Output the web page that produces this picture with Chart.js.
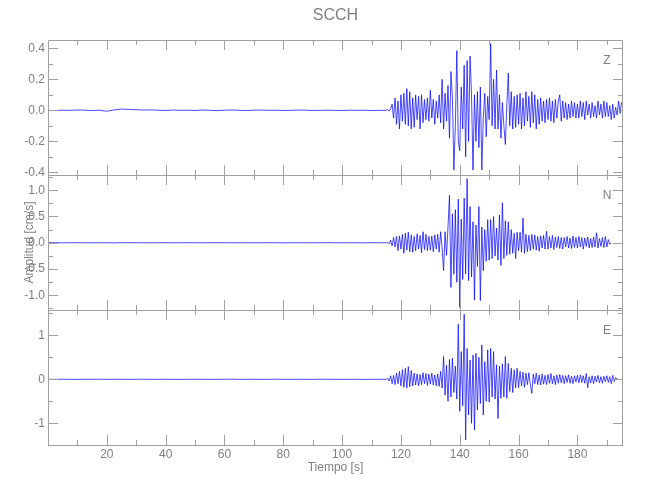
<!DOCTYPE html>
<html>
<head>
<meta charset="utf-8">
<script src="https://cdn.jsdelivr.net/npm/chart.js@4.4.1/dist/chart.umd.min.js"></script>
<style>
  html, body { margin: 0; padding: 0; background: #fff; }
  #wrap { position: relative; width: 650px; height: 500px; }
  #wrap canvas { position: absolute; left: 0; top: 0; }
</style>
</head>
<body>
<div id="wrap">
  <canvas id="chart-z" width="650" height="500"></canvas>
  <canvas id="chart-n" width="650" height="500"></canvas>
  <canvas id="chart-e" width="650" height="500"></canvas>
</div>
<script>
// Registro SCCH, velocidad en cm/s
const estacion = "SCCH";
const pasoQuieto = 2.5;     // s, tramo antes del arribo (0 - 112.5 s)
const inicioActivo = 115;   // s, primer punto del tramo fuerte
const paso = 0.5;           // s

// Eje X
const xMayores = [20, 40, 60, 80, 100, 120, 140, 160, 180];
const xMenores = [10, 30, 50, 70, 90, 110, 130, 150, 170, 190];

// Componente Z
const zTicks = [-0.4, -0.2, 0.0, 0.2, 0.4];
const zMenores = [-0.3, -0.1, 0.1, 0.3];
const zQuieto = [
  0.000, -0.002, 0.001, 0.000, 0.002, 0.001, -0.002, 0.001, -0.006, 0.003,
  0.008, 0.006, 0.004, 0.002, 0.003, 0.001, -0.001, 0.002, 0.000, 0.001,
  -0.001, 0.002, 0.000, -0.002, 0.001, 0.002, 0.000, -0.001, 0.001, 0.002,
  0.000, 0.001, -0.001, 0.000, 0.002, 0.001, -0.001, 0.000, 0.001, 0.000,
  -0.001, 0.001, 0.000, 0.001, -0.001, 0.000
];
const zActivo = [
  0.00, 0.005, -0.005, 0.01, 0.04, -0.05, 0.08, -0.09, 0.06, -0.12,
  0.10, -0.07, 0.11, -0.09, 0.14, -0.10, 0.12, -0.12, 0.08, -0.11,
  0.10, -0.06, 0.09, -0.12, 0.10, -0.08, 0.07, -0.06, 0.08, -0.07,
  0.13, -0.05, 0.07, -0.09, 0.06, -0.05, 0.10, -0.08, 0.20, -0.12,
  0.11, -0.07, 0.16, -0.18, 0.25, 0.08, -0.385, -0.10, 0.385, -0.20,
  -0.26, 0.15, -0.12, 0.29, -0.30, 0.32, -0.20, 0.35, 0.10, -0.385,
  0.10, -0.20, 0.12, -0.24, 0.15, -0.385, -0.05, 0.11, -0.17, 0.09,
  -0.06, 0.43, -0.10, 0.20, -0.12, 0.26, -0.12, 0.10, -0.18, 0.05,
  -0.10, -0.22, 0.03, 0.24, -0.10, 0.12, -0.12, 0.09, -0.11, 0.10,
  -0.09, 0.11, -0.12, 0.08, -0.10, 0.12, -0.07, 0.09, -0.11, 0.12,
  -0.08, 0.10, -0.12, 0.07, -0.09, 0.08, -0.07, 0.06, -0.08, 0.07,
  -0.06, 0.08, -0.07, 0.06, -0.08, 0.07, -0.05, 0.06, 0.10, -0.07,
  0.06, -0.05, 0.05, -0.06, 0.04, -0.05, 0.06, -0.04, 0.05, -0.05,
  0.04, -0.05, 0.06, -0.04, 0.05, -0.06, 0.06, -0.03, 0.04, -0.05,
  0.05, -0.04, 0.03, -0.05, 0.06, -0.03, 0.04, -0.05, 0.06, -0.04,
  0.05, -0.04, 0.03, -0.06, 0.04, -0.05, 0.02, -0.03, 0.06, -0.02,
  0.05, 0.06
];

// Componente N
const nTicks = [-1.0, -0.5, 0.0, 0.5, 1.0];
const nMenores = [-1.25, -0.75, -0.25, 0.25, 0.75, 1.25];
const nQuieto = [
  0.000, 0.001, -0.001, 0.000, 0.002, 0.000, -0.001, 0.001, 0.000, -0.002,
  0.001, 0.002, 0.000, -0.001, 0.001, 0.000, 0.002, -0.001, 0.000, 0.001,
  0.000, -0.001, 0.001, 0.002, 0.000, -0.001, 0.000, 0.001, -0.001, 0.000,
  0.001, 0.000, -0.002, 0.001, 0.000, 0.001, -0.001, 0.000, 0.002, 0.000,
  -0.001, 0.001, 0.000, -0.001, 0.002, 0.000
];
const nActivo = [
  0.00, 0.01, -0.02, 0.05, -0.06, 0.10, -0.08, 0.12, -0.15, 0.13,
  -0.12, 0.16, -0.20, 0.18, -0.14, 0.20, -0.17, 0.15, -0.18, 0.12,
  -0.15, 0.17, -0.12, 0.14, -0.19, 0.21, -0.13, 0.16, -0.15, 0.12,
  -0.14, 0.13, -0.17, 0.15, -0.12, 0.16, -0.18, 0.21, -0.10, -0.53,
  0.21, -0.24, 0.30, 0.90, -0.85, 0.55, -0.60, 0.63, -0.75, 0.83,
  -1.23, 0.45, -0.70, 0.85, -0.59, 1.22, -0.72, 0.69, -0.65, 0.40,
  -1.09, 0.34, -0.45, 0.69, -1.10, 0.30, -0.53, 0.25, -0.35, 0.44,
  -0.33, 0.44, -0.30, 0.50, -0.25, 0.28, -0.33, 0.53, -0.43, 0.76,
  -0.30, 0.42, -0.24, 0.40, -0.22, 0.25, -0.20, 0.18, -0.30, 0.20,
  -0.15, 0.20, -0.18, 0.47, -0.20, 0.16, -0.17, 0.14, -0.15, 0.16,
  -0.12, 0.15, -0.14, 0.12, -0.16, 0.13, -0.10, 0.14, -0.12, 0.22,
  -0.12, 0.12, -0.10, 0.14, -0.13, 0.11, -0.09, 0.12, -0.11, 0.10,
  -0.12, 0.10, -0.08, 0.12, -0.10, 0.09, -0.11, 0.13, -0.09, 0.10,
  -0.10, 0.12, -0.08, 0.10, -0.12, 0.09, -0.07, 0.11, -0.10, 0.08,
  -0.09, 0.11, -0.08, 0.19, -0.10, 0.08, -0.07, 0.10, -0.09, 0.12,
  -0.08, 0.06, -0.03, 0.00
];

// Componente E
const eTicks = [-1, 0, 1];
const eMenores = [-1.5, -0.5, 0.5, 1.5];
const eQuieto = [
  0.000, -0.001, 0.001, 0.000, -0.002, 0.001, 0.000, 0.002, -0.001, 0.000,
  0.001, -0.001, 0.000, 0.002, 0.000, -0.001, 0.001, 0.000, -0.002, 0.001,
  0.000, 0.001, -0.001, 0.000, 0.001, 0.002, -0.001, 0.000, 0.001, -0.001,
  0.000, 0.002, 0.000, -0.001, 0.001, 0.000, -0.001, 0.002, 0.000, 0.001,
  -0.001, 0.000, 0.001, -0.002, 0.000, 0.001
];
const eActivo = [
  0.00, 0.02, -0.04, 0.08, -0.10, 0.09, -0.12, 0.14, -0.10, 0.18,
  -0.15, 0.22, -0.18, 0.25, -0.20, 0.29, -0.17, 0.20, -0.15, 0.14,
  -0.13, 0.12, -0.15, 0.11, -0.12, 0.15, -0.10, 0.13, -0.14, 0.12,
  -0.11, 0.14, -0.13, 0.10, -0.15, 0.12, -0.16, 0.18, -0.20, 0.52,
  -0.36, 0.32, -0.50, 0.45, -0.40, 0.48, -0.30, 0.30, -0.45, 1.25,
  -0.73, 0.63, -0.60, 1.48, -1.38, 0.70, -0.81, 0.44, -1.00, 0.55,
  -1.15, 0.59, -0.70, 0.50, -0.55, 0.78, -0.81, 0.40, -0.50, 0.67,
  -0.52, 0.70, -0.40, 0.63, -0.45, 0.33, -0.89, 0.30, -0.43, 0.35,
  -0.40, 0.52, -0.43, 0.36, -0.28, 0.25, -0.30, 0.21, -0.20, 0.25,
  -0.19, 0.18, -0.15, 0.16, -0.18, 0.14, -0.12, 0.15, -0.13, -0.32,
  0.12, -0.10, 0.14, -0.12, 0.10, -0.13, 0.12, -0.11, 0.09, -0.12,
  0.11, -0.09, 0.13, -0.10, 0.08, -0.12, 0.10, -0.09, 0.11, -0.08,
  0.09, -0.10, 0.08, -0.07, 0.10, -0.09, 0.07, -0.10, 0.08, -0.06,
  0.09, -0.08, 0.10, -0.07, 0.08, -0.09, 0.13, -0.19, 0.06, -0.08,
  0.08, -0.10, 0.07, -0.06, 0.09, -0.08, 0.06, -0.09, 0.07, -0.05,
  0.08, -0.07, 0.06, -0.10, 0.09, -0.05, 0.04, 0.00
];

const grisMarco = "#a0a0a0";
const grisTexto = "#808080";
const azul = "rgba(0, 0, 255, 0.9)";
const fuente = "'Liberation Sans', Arial, sans-serif";

// Une el tramo quieto y el tramo activo en puntos {x, y}
function serie(quieto, activo) {
  const puntos = quieto.map((v, i) => ({ x: i * pasoQuieto, y: v }));
  activo.forEach((v, i) => puntos.push({ x: inicioActivo + i * paso, y: v }));
  return puntos;
}

// Marco, marcas hacia adentro y letra de la componente
const marcoPlugin = {
  id: "marco",
  afterDatasetsDraw(chart, args, opts) {
    const { ctx, chartArea: a, scales: { x, y } } = chart;
    ctx.save();
    ctx.strokeStyle = grisMarco;
    ctx.lineWidth = 1;
    ctx.beginPath();
    ctx.rect(a.left + 0.5, a.top + 0.5, a.right - a.left - 1, a.bottom - a.top);
    const marcaY = (v, largo) => {
      const py = Math.round(y.getPixelForValue(v)) + 0.5;
      if (py < a.top || py > a.bottom + 1) return;
      ctx.moveTo(a.left, py); ctx.lineTo(a.left + largo, py);
      ctx.moveTo(a.right, py); ctx.lineTo(a.right - largo, py);
    };
    const marcaX = (v, largo) => {
      const px = Math.round(x.getPixelForValue(v)) + 0.5;
      ctx.moveTo(px, a.top); ctx.lineTo(px, a.top + largo);
      ctx.moveTo(px, a.bottom); ctx.lineTo(px, a.bottom - largo);
    };
    opts.mayores.forEach(v => marcaY(v, 10));
    opts.menores.forEach(v => marcaY(v, 5));
    xMayores.forEach(v => marcaX(v, 10));
    xMenores.forEach(v => marcaX(v, 5));
    ctx.stroke();
    ctx.fillStyle = grisTexto;
    ctx.font = "12px " + fuente;
    ctx.textAlign = "center";
    ctx.textBaseline = "middle";
    ctx.fillText(opts.letra, a.right - 16, a.top + 21);
    ctx.restore();
  }
};

function crearPanel(id, p) {
  return new Chart(document.getElementById(id), {
    type: "line",
    data: {
      datasets: [{
        data: p.puntos,
        borderColor: azul,
        borderWidth: 0.8,
        pointRadius: 0,
        tension: 0,
        fill: false
      }]
    },
    options: {
      responsive: false,
      animation: false,
      events: [],
      layout: { padding: { left: 0, right: 27, top: p.arriba, bottom: p.abajo } },
      plugins: {
        legend: { display: false },
        tooltip: { enabled: false },
        title: p.titulo ? {
          display: true,
          text: p.titulo,
          color: grisTexto,
          fullSize: false,
          font: { family: fuente, size: 16, weight: "normal" },
          padding: { top: 6, bottom: 14.8 }
        } : { display: false },
        marco: { mayores: p.ticks, menores: p.menores, letra: p.letra }
      },
      scales: {
        x: {
          type: "linear",
          min: 0,
          max: 195.5,
          display: p.conEjeX,
          grid: { display: false, drawTicks: false },
          border: { display: false },
          afterBuildTicks: s => { s.ticks = xMayores.map(v => ({ value: v })); },
          afterFit: s => { s.height = p.conEjeX ? 55 : 0; },
          ticks: { color: grisTexto, padding: 2, maxRotation: 0, font: { family: fuente, size: 12 } },
          title: {
            display: p.conEjeX,
            text: "Tiempo [s]",
            color: grisTexto,
            font: { family: fuente, size: 12 },
            padding: { top: 0, bottom: 24.8 }
          }
        },
        y: {
          type: "linear",
          min: p.min,
          max: p.max,
          grid: { display: false, drawTicks: false },
          border: { display: false },
          afterBuildTicks: s => { s.ticks = p.ticks.map(v => ({ value: v })); },
          afterFit: s => { s.width = 48; },
          ticks: {
            color: grisTexto,
            padding: 3,
            font: { family: fuente, size: 12 },
            callback: v => p.decimales ? v.toFixed(p.decimales) : String(v)
          },
          title: {
            display: !!p.tituloY,
            text: p.tituloY || "",
            color: grisTexto,
            font: { family: fuente, size: 12 },
            padding: { top: 22.3, bottom: 0 }
          }
        }
      }
    },
    plugins: [marcoPlugin]
  });
}

crearPanel("chart-z", {
  puntos: serie(zQuieto, zActivo), min: -0.417, max: 0.4535,
  ticks: zTicks, menores: zMenores, decimales: 1, letra: "Z",
  arriba: 0, abajo: 325, titulo: estacion, conEjeX: false
});
crearPanel("chart-n", {
  puntos: serie(nQuieto, nActivo), min: -1.28, max: 1.29,
  ticks: nTicks, menores: nMenores, decimales: 1, letra: "N",
  arriba: 175, abajo: 190, conEjeX: false, tituloY: "Amplitud [cm/s]"
});
crearPanel("chart-e", {
  puntos: serie(eQuieto, eActivo), min: -1.493, max: 1.575,
  ticks: eTicks, menores: eMenores, decimales: 0, letra: "E",
  arriba: 310, abajo: 0, conEjeX: true
});
</script>
</body>
</html>
